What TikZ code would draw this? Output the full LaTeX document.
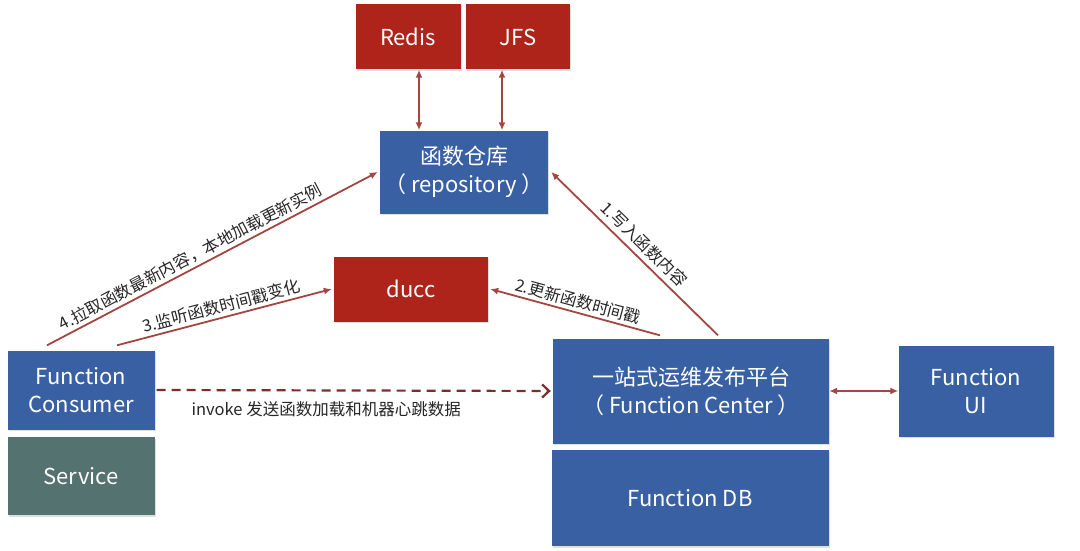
\documentclass[tikz,border=0pt]{standalone}
\usepackage{fontspec}
\setmainfont{Noto Sans CJK SC}
\usetikzlibrary{arrows.meta,shadows}
\definecolor{boxblue}{RGB}{57,96,162}
\definecolor{boxred}{RGB}{174,35,26}
\definecolor{boxteal}{RGB}{84,114,112}
\definecolor{linkred}{RGB}{163,70,66}
\definecolor{dashred}{RGB}{125,45,45}

\tikzset{
  box/.style={rectangle, inner sep=0pt, text=white, align=center,
    font=\fontsize{22}{28}\selectfont,
    drop shadow={opacity=0.25, shadow xshift=1pt, shadow yshift=-1.5pt}},
  bluebox/.style={box, fill=boxblue},
  redbox/.style={box, fill=boxred},
  tealbox/.style={box, fill=boxteal},
  link/.style={draw=linkred, line width=1.8pt, -{Latex[length=8pt,width=7pt]}},
  bilink/.style={link, {Latex[length=8pt,width=7pt]}-{Latex[length=8pt,width=7pt]}},
  tag/.style={font=\fontsize{16.5}{19}\selectfont, text=black!85, inner sep=3pt}
}

\begin{document}
\begin{tikzpicture}[x=1pt,y=-1pt]
    \useasboundingbox (0,0) rectangle (1080,551);

    % stores on top
    \node[redbox,minimum width=105,minimum height=65] (redis) at (408,37) {Redis};
    \node[redbox,minimum width=104,minimum height=65] (jfs) at (518,37) {JFS};
    \node[bluebox,minimum width=168,minimum height=83] (repo) at (464,172) {函数仓库\\（ repository ）};
    \node[redbox,minimum width=154,minimum height=65] (ducc) at (411,289) {ducc};

    % consumer side
    \node[bluebox,minimum width=147,minimum height=79] (consumer) at (81,390) {Function\\Consumer};
    \node[tealbox,minimum width=147,minimum height=78] (service) at (81,476) {Service};

    % platform side
    \node[bluebox,minimum width=276,minimum height=105] (center) at (691,391) {一站式运维发布平台\\（ Function Center ）};
    \node[bluebox,minimum width=277,minimum height=96] (db) at (690,498) {Function DB};
    \node[bluebox,minimum width=155,minimum height=91] (ui) at (976,391) {Function\\UI};

    \draw[bilink] ([xshift=11pt]redis.south) -- ([xshift=11pt]redis.south |- repo.north);
    \draw[bilink] ([xshift=-16pt]jfs.south) -- ([xshift=-16pt]jfs.south |- repo.north);

    \draw[link] ([xshift=27pt,yshift=3pt]center.north) -- node[tag,sloped,above=2pt] {1.写入函数内容} ([xshift=3pt]repo.east);
    \draw[link] ([xshift=-31pt,yshift=3pt]center.north) -- node[tag,sloped,above] {2.更新函数时间戳} ([xshift=2pt]ducc.east);
    \draw[link] ([xshift=36pt,yshift=5pt]consumer.north) -- node[tag,sloped,above] {3.监听函数时间戳变化} ([xshift=-2pt]ducc.west);
    \draw[link] ([xshift=-34pt,yshift=5pt]consumer.north) -- node[tag,sloped,above,pos=0.45] {4.拉取函数最新内容，本地加载更新实例} ([xshift=-2pt]repo.west);

    \draw[dashred,line width=2.2pt,dash pattern=on 9pt off 6pt,-{Straight Barb[length=7pt,width=13pt]}]
      ([xshift=2pt]consumer.east) -- node[tag,below=7pt,pos=0.43] {invoke 发送函数加载和机器心跳数据} ([xshift=-2pt]center.west);
    \draw[bilink] (center.east) -- (ui.west);

\end{tikzpicture}
\end{document}
